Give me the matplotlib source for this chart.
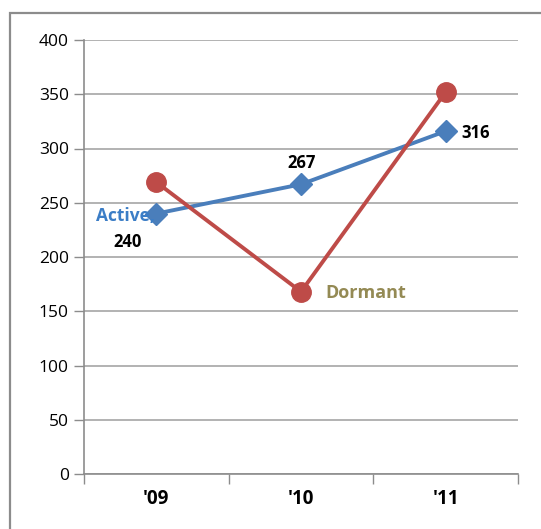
import matplotlib
matplotlib.use('Agg')
import matplotlib.pyplot as plt
from matplotlib.patches import Rectangle

years = ["'09", "'10", "'11"]
active = [240, 267, 316]
dormant = [269, 168, 352]

plt.rcParams['font.family'] = ['Open Sans', 'DejaVu Sans']

fig = plt.figure(figsize=(5.41, 5.29), dpi=100)
ax = fig.add_axes([84 / 541, 55 / 529, 434 / 541, 434 / 529])

# outer chart border (partially cropped in the reference)
fig.patches.append(Rectangle((10 / 541, -0.1), 1.2, (529 - 13) / 529 + 0.1,
                             transform=fig.transFigure, fill=False,
                             edgecolor='#8c8c8c', linewidth=1.6))

x = list(range(len(years)))
ax.plot(x, active, color='#4a7ebb', linewidth=2.8, marker='D', markersize=11,
        zorder=3)
ax.plot(x, dormant, color='#be4b48', linewidth=2.8, marker='o', markersize=14,
        zorder=4)

ax.set_xlim(-0.5, 2.5)
ax.set_ylim(0, 400)
ax.set_yticks(range(0, 401, 50))
ax.set_xticks(x)
ax.set_xticklabels(years, fontsize=13.5, fontweight='bold')
ax.set_xticks([-0.5, 0.5, 1.5, 2.5], minor=True)
ax.tick_params(axis='x', which='major', length=0, pad=11)
ax.tick_params(axis='x', which='minor', length=7, color='#8c8c8c', width=1)
ax.tick_params(axis='y', length=7, color='#8c8c8c', width=1, labelsize=12.5,
               pad=4)
ax.grid(axis='y', color='#a6a6a6', linewidth=1.2)
ax.set_axisbelow(True)
for s in ['top', 'right']:
    ax.spines[s].set_visible(False)
for s in ['left', 'bottom']:
    ax.spines[s].set_color('#8c8c8c')
    ax.spines[s].set_linewidth(1.2)

# data labels
ax.annotate('Active,', (x[0], active[0]), xytext=(-31, -2),
            textcoords='offset pixels', color='#3b7dc6', fontsize=12.5,
            fontweight='bold', ha='center', va='center')
ax.annotate(str(active[0]), (x[0], active[0]), xytext=(-29, -28),
            textcoords='offset pixels', fontsize=12, fontweight='bold',
            ha='center', va='center')
ax.annotate(str(active[1]), (x[1], active[1]), xytext=(1, 21),
            textcoords='offset pixels', fontsize=12, fontweight='bold',
            ha='center', va='center')
ax.annotate(str(active[2]), (x[2], active[2]), xytext=(16, -2),
            textcoords='offset pixels', fontsize=12, fontweight='bold',
            ha='left', va='center')
ax.annotate('Dormant', (x[1], dormant[1]), xytext=(24, -1),
            textcoords='offset pixels', color='#948a54', fontsize=13,
            fontweight='bold', ha='left', va='center')

fig.savefig('out.png', dpi=100)
